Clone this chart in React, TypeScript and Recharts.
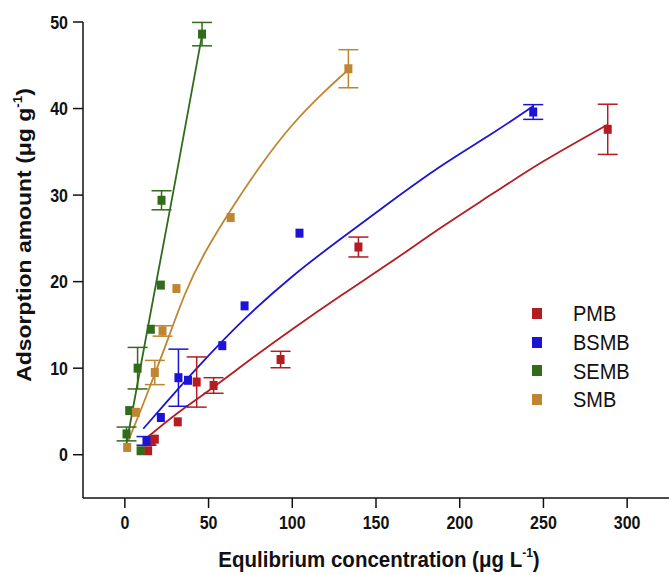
import React from 'react';
import { ComposedChart, Scatter, Line, XAxis, YAxis, ErrorBar } from 'recharts';

// measured points (x = equilibrium conc., y = adsorption, err = half error bar, 0 = no bar)
const pmbX = [13.9, 15.9, 17.9, 31.6, 42.9, 53.0, 93.0, 139.5, 288.4];
const pmbY = [0.46, 1.6, 1.8, 3.8, 8.4, 8.0, 11.0, 24.0, 37.6];
const pmbErr = [0, 0, 0, 0, 2.9, 0.9, 0.95, 1.15, 2.9];

const bsmbX = [12.9, 21.5, 32.0, 37.7, 58.2, 71.5, 104.3, 243.9];
const bsmbY = [1.6, 4.3, 8.9, 8.6, 12.6, 17.2, 25.6, 39.6];
const bsmbErr = [0.5, 0, 3.3, 0, 0, 0, 0, 0.85];

const sembX = [1.0, 2.6, 7.6, 9.4, 15.5, 21.5, 21.9, 46.1];
const sembY = [2.4, 5.1, 10.0, 0.46, 14.5, 19.6, 29.4, 48.6];
const sembErr = [0.8, 0, 2.4, 0, 0, 0, 1.1, 1.35];

const smbX = [1.4, 6.6, 17.9, 22.5, 30.8, 63.2, 133.5];
const smbY = [0.84, 4.9, 9.5, 14.3, 19.2, 27.4, 44.6];
const smbErr = [0, 0, 1.4, 0.6, 0, 0, 2.2];

// fitted curves
const pmbFitX = [14, 30, 50, 75, 100, 130, 160, 190, 220, 250, 288];
const pmbFitY = [2.1, 4.6, 7.4, 11.0, 14.5, 18.5, 22.4, 26.4, 30.2, 33.9, 38.1];

const bsmbFitX = [11, 25, 45, 70, 100, 130, 160, 190, 220, 244];
const bsmbFitY = [3.0, 6.1, 10.4, 15.4, 20.6, 25.1, 29.4, 33.5, 37.2, 40.3];

const sembFitX = [1, 10, 20, 30, 46];
const sembFitY = [1.3, 10.8, 21.2, 31.5, 48.4];

const smbFitX = [2, 10, 18, 26, 36, 48, 63, 80, 100, 120, 133];
const smbFitY = [1.6, 5.4, 9.4, 13.5, 18.6, 23.4, 28.2, 33.1, 38.1, 42.1, 44.4];

const xTicks = [0, 50, 100, 150, 200, 250, 300];
const yTicks = [0, 10, 20, 30, 40, 50];

const seriesNames = ['PMB', 'BSMB', 'SEMB', 'SMB'];
const seriesColors = ['#b31d22', '#1b14d6', '#316b1c', '#c08530'];

const toPoints = (xs: number[], ys: number[], errs: number[]) =>
  xs.map((x, i) => ({ x, y: ys[i], err: errs[i] }));
const toCurve = (xs: number[], ys: number[]) => xs.map((x, i) => ({ x, y: ys[i] }));

const points = [
  toPoints(pmbX, pmbY, pmbErr),
  toPoints(bsmbX, bsmbY, bsmbErr),
  toPoints(sembX, sembY, sembErr),
  toPoints(smbX, smbY, smbErr),
];
const curves = [
  toCurve(pmbFitX, pmbFitY),
  toCurve(bsmbFitX, bsmbFitY),
  toCurve(sembFitX, sembFitY),
  toCurve(smbFitX, smbFitY),
];

const FONT = '"Liberation Sans", Arial, Helvetica, sans-serif';
// the source figure is a bit stretched vertically
const STRETCH = 1.16;

const makeSquare = (color: string) => (props: any) => {
  const { cx, cy } = props;
  if (cx == null || cy == null) return null;
  return <rect x={cx - 4} y={cy - 4.5} width={8} height={9} fill={color} />;
};

const XTick = (props: any) => {
  const { x, y, payload } = props;
  return (
    <g transform={`translate(${x},${y}) scale(1,${STRETCH})`}>
      <text x={0} y={0} dy="0.71em" textAnchor="middle" fontFamily={FONT} fontWeight="bold" fontSize={16} fill="#111">
        {payload.value}
      </text>
    </g>
  );
};

const YTick = (props: any) => {
  const { x, y, payload } = props;
  return (
    <g transform={`translate(${x},${y}) scale(1,${STRETCH})`}>
      <text x={0} y={0} dy="0.355em" textAnchor="end" fontFamily={FONT} fontWeight="bold" fontSize={16} fill="#111">
        {payload.value}
      </text>
    </g>
  );
};

const YTitle = (props: any) => {
  const { viewBox } = props;
  const cx = viewBox.x + 31;
  const cy = viewBox.y + viewBox.height / 2 - 25;
  return (
    <g transform={`translate(${cx},${cy}) rotate(-90) scale(${STRETCH - 0.04},1)`}>
      <text x={0} y={0} textAnchor="middle" fontFamily={FONT} fontWeight="bold" fontSize={20.5} fill="#111">
        Adsorption amount (μg g
        <tspan fontSize={12} dy={-9}>-1</tspan>
        <tspan dy={9}>)</tspan>
      </text>
    </g>
  );
};

const XTitle = (props: any) => {
  const { viewBox } = props;
  const cx = viewBox.x + viewBox.width / 2 + 3;
  const cy = viewBox.y + 69;
  return (
    <g transform={`translate(${cx},${cy}) scale(1,${STRETCH - 0.04})`}>
      <text x={0} y={0} textAnchor="middle" fontFamily={FONT} fontWeight="bold" fontSize={20.5} fill="#111">
        Equlibrium concentration (μg L
        <tspan fontSize={12} dy={-9}>-1</tspan>
        <tspan dy={9}>)</tspan>
      </text>
    </g>
  );
};

export default function App() {
  return (
    <div style={{ position: 'absolute', left: 0, top: 0, width: 669, height: 575, background: '#fff', fontFamily: FONT }}>
      <ComposedChart width={669} height={575} margin={{ top: 22, right: 0, bottom: 0, left: 0 }}>
        <XAxis
          type="number"
          dataKey="x"
          domain={[-25, 325]}
          ticks={xTicks}
          allowDataOverflow
          height={77}
          tickSize={10}
          tickMargin={8}
          tick={<XTick />}
          axisLine={{ stroke: '#111', strokeWidth: 1.5 }}
          tickLine={{ stroke: '#111', strokeWidth: 1.5 }}
          label={<XTitle />}
        />
        <YAxis
          type="number"
          dataKey="y"
          domain={[-5, 50]}
          ticks={yTicks}
          allowDataOverflow
          width={83}
          tickSize={10}
          tickMargin={5}
          tick={<YTick />}
          axisLine={{ stroke: '#111', strokeWidth: 1.5 }}
          tickLine={{ stroke: '#111', strokeWidth: 1.5 }}
          label={<YTitle />}
        />
        {curves.map((c, i) => (
          <Line
            key={'fit' + i}
            data={c}
            dataKey="y"
            type="natural"
            stroke={seriesColors[i]}
            strokeWidth={1.8}
            dot={false}
            activeDot={false}
            isAnimationActive={false}
          />
        ))}
        {points.map((p, i) => (
          <Scatter
            key={seriesNames[i]}
            name={seriesNames[i]}
            data={p}
            dataKey="y"
            fill={seriesColors[i]}
            shape={makeSquare(seriesColors[i])}
            isAnimationActive={false}
          >
            <ErrorBar dataKey="err" direction="y" width={10} stroke={seriesColors[i]} strokeWidth={1.5} />
          </Scatter>
        ))}
      </ComposedChart>
      <div style={{ position: 'absolute', left: 532, top: 299 }}>
        {seriesNames.map((name, i) => (
          <div key={name} style={{ display: 'flex', alignItems: 'center', height: 28.7 }}>
            <div style={{ width: 10, height: 11, background: seriesColors[i], marginRight: 31 }} />
            <span style={{ fontSize: 20, color: '#111', lineHeight: '20px', display: 'inline-block', transform: `scaleY(${STRETCH - 0.06})` }}>
              {name}
            </span>
          </div>
        ))}
      </div>
    </div>
  );
}
